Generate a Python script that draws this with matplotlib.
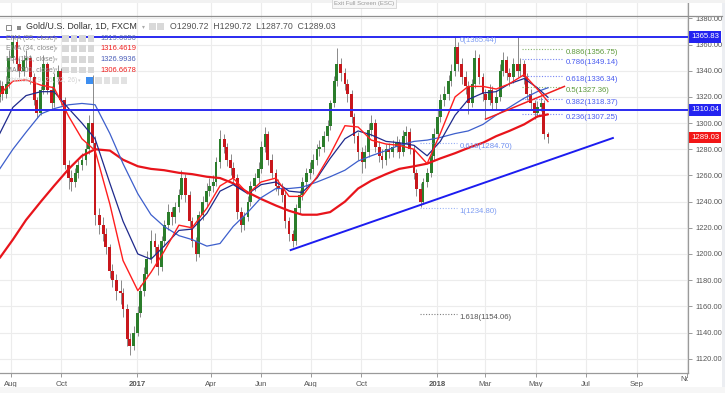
import matplotlib
matplotlib.use('Agg')
import matplotlib.pyplot as plt
import matplotlib.dates as mdates
from matplotlib.patches import Rectangle
from matplotlib.lines import Line2D
from matplotlib.transforms import Bbox, TransformedBbox
import pandas as pd
from datetime import datetime

plt.rcParams['font.family'] = ['Liberation Sans', 'DejaVu Sans']

W, H = 725, 393

# ---------------- data ----------------
start_date = '2016-07-18'      # first candle; one candle every 3 trading days
first_open = 1320
closes = [1328, 1322, 1330, 1350, 1362, 1345, 1340, 1348, 1350, 1335,
          1318, 1308, 1325, 1345, 1325, 1315, 1335, 1340, 1318, 1268,
          1258, 1255, 1262, 1268, 1272, 1280, 1300, 1285, 1230, 1222,
          1215, 1205, 1187, 1180, 1172, 1170, 1158, 1135, 1130, 1140,
          1155, 1172, 1185, 1196, 1210, 1205, 1190, 1210, 1222, 1232,
          1228, 1236, 1245, 1258, 1245, 1225, 1210, 1200, 1230, 1240,
          1248, 1252, 1255, 1270, 1288, 1282, 1272, 1266, 1258, 1232,
          1222, 1228, 1240, 1252, 1258, 1265, 1282, 1292, 1272, 1262,
          1252, 1250, 1245, 1225, 1215, 1210, 1235, 1245, 1255, 1262,
          1265, 1272, 1280, 1282, 1290, 1298, 1315, 1332, 1345, 1338,
          1330, 1322, 1305, 1290, 1278, 1270, 1278, 1295, 1300, 1282,
          1275, 1272, 1280, 1278, 1282, 1285, 1278, 1290, 1293, 1280,
          1262, 1250, 1240, 1255, 1262, 1275, 1292, 1305, 1318, 1322,
          1332, 1340, 1358, 1345, 1335, 1328, 1315, 1330, 1350, 1335,
          1322, 1318, 1325, 1315, 1320, 1340, 1348, 1338, 1335, 1345,
          1340, 1345, 1335, 1322, 1315, 1308, 1312, 1315, 1292, 1289.03]
highs = [1333, 1332, 1336, 1356, 1367, 1364, 1350, 1352, 1356, 1352,
         1338, 1320, 1328, 1352, 1347, 1328, 1338, 1344, 1342, 1320,
         1272, 1264, 1266, 1272, 1277, 1285, 1306, 1337, 1290, 1235,
         1228, 1220, 1208, 1192, 1185, 1180, 1174, 1162, 1140, 1145,
         1160, 1176, 1190, 1202, 1218, 1216, 1208, 1214, 1226, 1238,
         1236, 1240, 1250, 1264, 1261, 1248, 1228, 1213, 1233, 1244,
         1254, 1258, 1260, 1274, 1295, 1292, 1285, 1276, 1270, 1261,
         1236, 1232, 1244, 1256, 1262, 1270, 1286, 1297, 1294, 1276,
         1265, 1257, 1254, 1248, 1228, 1218, 1238, 1249, 1259, 1266,
         1270, 1276, 1284, 1287, 1294, 1302, 1318, 1336, 1357, 1350,
         1342, 1334, 1325, 1308, 1293, 1282, 1283, 1300, 1306, 1303,
         1286, 1280, 1284, 1285, 1287, 1290, 1288, 1295, 1298, 1296,
         1283, 1265, 1254, 1258, 1266, 1279, 1296, 1310, 1322, 1328,
         1337, 1345, 1366, 1362, 1350, 1340, 1332, 1334, 1356, 1353,
         1338, 1326, 1330, 1328, 1325, 1345, 1354, 1351, 1342, 1350,
         1366, 1350, 1348, 1338, 1326, 1318, 1317, 1320, 1318, 1293]
lows = [1316, 1318, 1319, 1327, 1346, 1340, 1335, 1336, 1343, 1330,
        1314, 1304, 1306, 1322, 1322, 1310, 1312, 1330, 1314, 1265,
        1250, 1248, 1251, 1258, 1264, 1268, 1276, 1280, 1222, 1215,
        1210, 1200, 1182, 1175, 1165, 1162, 1152, 1130, 1123, 1127,
        1137, 1152, 1168, 1182, 1193, 1200, 1184, 1187, 1206, 1218,
        1222, 1224, 1232, 1242, 1240, 1220, 1205, 1195, 1198, 1226,
        1236, 1244, 1247, 1252, 1266, 1277, 1267, 1260, 1254, 1227,
        1217, 1218, 1225, 1237, 1248, 1254, 1262, 1278, 1268, 1258,
        1248, 1245, 1240, 1220, 1210, 1205, 1207, 1231, 1241, 1251,
        1257, 1261, 1268, 1275, 1278, 1286, 1295, 1312, 1328, 1332,
        1325, 1316, 1300, 1285, 1272, 1262, 1266, 1274, 1290, 1278,
        1270, 1266, 1268, 1273, 1274, 1278, 1273, 1275, 1285, 1276,
        1257, 1244, 1236, 1238, 1251, 1259, 1272, 1288, 1301, 1313,
        1318, 1328, 1336, 1340, 1330, 1322, 1307, 1312, 1327, 1330,
        1317, 1303, 1314, 1310, 1311, 1317, 1336, 1333, 1328, 1331,
        1335, 1336, 1330, 1318, 1310, 1303, 1305, 1309, 1288, 1285]

# moving averages, sampled every 4th candle plus the last one
ma_step = 4
ema34 = [1322, 1332, 1333, 1329, 1327, 1305, 1288, 1279, 1238, 1195,
         1172, 1186, 1202, 1222, 1220, 1235, 1252, 1258, 1246, 1255,
         1258, 1244, 1244, 1259, 1276, 1298, 1297, 1287, 1284, 1283,
         1280, 1269, 1292, 1320, 1328, 1328, 1326, 1330, 1337, 1326, 1316.46]
ema55 = [1292, 1312, 1321, 1324, 1324, 1311, 1300, 1288, 1254, 1225,
         1200, 1196, 1206, 1218, 1219, 1231, 1248, 1253, 1246, 1253,
         1255, 1248, 1247, 1258, 1273, 1288, 1294, 1291, 1286, 1285,
         1283, 1275, 1286, 1306, 1318, 1323, 1324, 1330, 1334, 1327, 1319.67]
ma100 = [1265, 1280, 1293, 1307, 1311, 1314, 1315, 1314, 1292, 1269,
         1246, 1230, 1221, 1214, 1211, 1206, 1208, 1221, 1232, 1243,
         1250, 1250, 1251, 1255, 1259, 1264, 1271, 1275, 1279, 1283,
         1286, 1287, 1289, 1292, 1294, 1299, 1306, 1312, 1319, 1324, 1326.99]
ma200 = [1197, 1211, 1226, 1240, 1252, 1265, 1275, 1280, 1279, 1272,
         1267, 1265, 1264, 1262, 1261, 1259, 1258, 1254, 1247, 1242,
         1237, 1233, 1230, 1230, 1232, 1240, 1250, 1256, 1261, 1265,
         1267, 1269, 1273, 1277, 1281, 1285, 1290, 1294, 1299, 1305, 1306.67]

support_dates = ['2017-07-07', '2018-08-03']
support_prices = [1203.0, 1288.6]
red_trend_dates = ['2018-03-01', '2018-06-05']
red_trend_prices = [1303.0, 1328.0]
hline_prices = [1365.83, 1310.04]
last_price = 1289.03

fib1_labels = ['0', '0.618', '1', '1.618']
fib1_prices = [1365.44, 1284.70, 1234.80, 1154.06]
fib1_span = ['2017-12-11', '2018-01-25']
fib2_labels = ['0.236', '0.382', '0.5', '0.618', '0.786', '0.886']
fib2_prices = [1307.25, 1318.37, 1327.36, 1336.34, 1349.14, 1356.75]
fib2_span = ['2018-04-15', '2018-06-03']

legend_names = ['EMA (55, close)', 'EMA (34, close)', 'MA (100, close)', 'MA (200, close)']
legend_values = ['1319.6656', '1316.4619', '1326.9936', '1306.6678']

price_ticks = list(range(1120, 1381, 20))
month_dates = ['2016-08-01', '2016-10-01', '2017-01-01', '2017-04-01', '2017-06-01',
               '2017-08-01', '2017-10-01', '2018-01-01', '2018-03-01', '2018-05-01',
               '2018-07-01', '2018-09-01', '2018-11-01']
month_labels = ['Aug', 'Oct', '2017', 'Apr', 'Jun', 'Aug', 'Oct', '2018',
                'Mar', 'May', 'Jul', 'Sep', 'Nov']

# ---------------- figure ----------------
def fx(x):
    return x / W

def fy(y):
    return 1 - y / H

fig = plt.figure(figsize=(W / 100, H / 100), dpi=100)
fig.patch.set_facecolor('white')
ax = fig.add_axes([0, (H - 373) / H, 688 / W, 373 / H])
ax.set_facecolor('white')

px_per_day = 300 / 365.0
jan17 = mdates.date2num(datetime(2017, 1, 1))
x_left = jan17 - 137 / px_per_day
x_right = x_left + 688 / px_per_day
ax.set_xlim(x_left, x_right)
ax.set_ylim(1120 - (373 - 358.7) / 1.309, 1120 + 358.7 / 1.309)

n = len(closes)
dates = pd.bdate_range(start=start_date, periods=3 * n)[::3]
dnum = mdates.date2num(dates.to_pydatetime())
opens = [first_open] + closes[:-1]

# grid
for p in price_ticks:
    ax.axhline(p, color='#ececec', lw=0.8, zorder=0)
mnum = [mdates.date2num(pd.Timestamp(d).to_pydatetime()) for d in month_dates]
for m in mnum:
    ax.axvline(m, color='#ececec', lw=0.8, zorder=0)

# candles
ax.vlines(dnum, lows, highs, color='#8a8a8a', lw=0.7, zorder=2)
bottoms = [min(o, c) for o, c in zip(opens, closes)]
heights = [max(abs(c - o), 0.6) for o, c in zip(opens, closes)]
cols = ['#2b7d2b' if c >= o else '#c8171c' for o, c in zip(opens, closes)]
ax.bar(dnum, heights, bottom=bottoms, width=3.4, color=cols, linewidth=0, zorder=3)

# moving averages
ma_idx = list(range(0, n, ma_step)) + [n - 1]
ma_x = [dnum[i] for i in ma_idx]
ax.plot(ma_x, ma200, color='#e8141b', lw=1.6, zorder=5, solid_capstyle='round')
ax.plot(ma_x, ma100, color='#3d5fcc', lw=0.9, zorder=5)
ax.plot(ma_x, ema55, color='#1f2a8c', lw=0.9, zorder=5)
ax.plot(ma_x, ema34, color='#ff1e1e', lw=1.0, zorder=5)

# horizontal levels
for p in hline_prices:
    ax.axhline(p, color='#2a2af0', lw=1.4, zorder=6)

# trend lines
sd = [mdates.date2num(pd.Timestamp(d).to_pydatetime()) for d in support_dates]
ax.plot(sd, support_prices, color='#1c1cf0', lw=1.4, zorder=6)
rd = [mdates.date2num(pd.Timestamp(d).to_pydatetime()) for d in red_trend_dates]
ax.plot(rd, red_trend_prices, color='#f01e1e', lw=1.1, zorder=6)

# fibonacci levels
def draw_fib(span, labels, prices, colors):
    s = [mdates.date2num(pd.Timestamp(d).to_pydatetime()) for d in span]
    for lab, p, c in zip(labels, prices, colors):
        ax.plot(s, [p, p], color=c, lw=0.8, ls=(0, (1, 1.5)), alpha=0.75, zorder=4)
        ax.annotate(f'{lab}({p:.2f})', xy=(s[1], p), xytext=(3, -3.5),
                    textcoords='offset pixels', ha='left', va='center',
                    fontsize=5.6, color=c, zorder=7)

draw_fib(fib1_span, fib1_labels, fib1_prices,
         ['#7d9cf2', '#6f8ff0', '#7d9cf2', '#555555'])
draw_fib(fib2_span, fib2_labels, fib2_prices,
         ['#4a5cf0', '#4a5cf0', '#5e9a3c', '#4a5cf0', '#4a5cf0', '#5e9a3c'])

# axes styling
for s in ['top', 'left']:
    ax.spines[s].set_visible(False)
for s in ['right', 'bottom']:
    ax.spines[s].set_color('#9a9a9a')
    ax.spines[s].set_linewidth(0.9)
ax.yaxis.tick_right()
ax.set_yticks(price_ticks)
ax.set_yticklabels([f'{p:.2f}' for p in price_ticks])
ax.tick_params(axis='y', direction='out', length=3, width=0.7, pad=2,
               colors='#9a9a9a', labelcolor='#555555', labelsize=5.4)
ax.set_xticks(mnum)
ax.set_xticklabels(month_labels[:-1] + [''])
ax.tick_params(axis='x', direction='out', length=3, width=0.7, pad=2.5,
               colors='#9a9a9a', labelcolor='#555555', labelsize=5.6)
for lbl in ax.get_xticklabels():
    if lbl.get_text() in ('2017', '2018'):
        lbl.set_fontweight('bold')
nov = ax.text(mnum[-1], -0.0185, month_labels[-1], transform=ax.get_xaxis_transform(),
              ha='center', va='center', fontsize=5.6, color='#555555')
nov.set_clip_path(None)
nov.set_clip_box(TransformedBbox(Bbox([[0, 0], [688 / W, 1]]), fig.transFigure))
nov.set_clip_on(True)

# price tags on axis
def tag(p, fc):
    ax.annotate(f'{p:.2f}', xy=(1.0, p), xycoords=ax.get_yaxis_transform(),
                xytext=(3, 0), textcoords='offset pixels', ha='left', va='center',
                fontsize=5.6, color='white', zorder=20, annotation_clip=False,
                bbox=dict(boxstyle='square,pad=0.3', fc=fc, ec='none'))

tag(hline_prices[0], '#2323f0')
tag(hline_prices[1], '#2323f0')
tag(last_price, '#f21616')

# ---------------- chrome ----------------
fig.add_artist(Line2D([0, fx(722)], [fy(16), fy(16)], transform=fig.transFigure,
                      color='#8f8f8f', lw=0.9))
fig.add_artist(Rectangle((fx(722), 0), 1 - fx(722), 1, transform=fig.transFigure,
                         fc='#eceef2', ec='none'))
fig.add_artist(Rectangle((0, fy(3)), 1, fy(0) - fy(3), transform=fig.transFigure,
                         fc='#f2f2f2', ec='none'))
fig.add_artist(Rectangle((0, 0), 1, fy(387), transform=fig.transFigure,
                         fc='#f6f6f6', ec='none'))
fig.text(fx(364), fy(3.5), 'Exit Full Screen (ESC)', ha='center', va='center',
         fontsize=4.3, color='#9a9a9a',
         bbox=dict(boxstyle='square,pad=0.35', fc='#f7f7f7', ec='#d4d4d4', lw=0.6))

# title row
fig.add_artist(Rectangle((fx(6), fy(30)), fx(5), fy(25) - fy(30), transform=fig.transFigure,
                         fc='none', ec='#777777', lw=0.6))
fig.add_artist(Rectangle((fx(17), fy(29.5)), fx(4), fy(25.5) - fy(29.5), transform=fig.transFigure,
                         fc='#8a8a8a', ec='none'))
fig.text(fx(26), fy(26.7), 'Gold/U.S. Dollar, 1D, FXCM', ha='left', va='center',
         fontsize=6.4, color='#333333')
fig.text(fx(142), fy(26.7), '\u25be', ha='left', va='center', fontsize=4.2, color='#aaaaaa')
for xx in (149, 157):
    fig.add_artist(Rectangle((fx(xx), fy(30)), fx(6.5), fy(23.5) - fy(30),
                             transform=fig.transFigure, fc='#d9d9d9', ec='none'))
fig.text(fx(170), fy(26.7), 'O1290.72  H1290.72  L1287.70  C1289.03', ha='left', va='center',
         fontsize=6.3, color='#555555')

# legend rows
row_y = [38.3, 48.7, 59.3, 70.0]
val_cols = ['#5a6cae', '#f01e1e', '#4a5db8', '#f01e1e']
for yy, name, val, vc in zip(row_y, legend_names, legend_values, val_cols):
    fig.text(fx(6), fy(yy), name, ha='left', va='center', fontsize=5.0, color='#8a8a8a')
    fig.text(fx(54.5), fy(yy), '\u25be', ha='left', va='center', fontsize=3.6, color='#bbbbbb')
    for xx in (62, 70.5, 79, 87.5):
        fig.add_artist(Rectangle((fx(xx), fy(yy + 3.3)), fx(6.5), fy(yy - 3.3) - fy(yy + 3.3),
                                 transform=fig.transFigure, fc='#d8d8d8', ec='none'))
    fig.text(fx(100), fy(yy), val, ha='left', va='center', fontsize=5.4, color=vc)
yy = 80.7
fig.text(fx(6), fy(yy), 'Ichimoku (9, 26, 52, 26)', ha='left', va='center',
         fontsize=4.9, color='#d2d2d2')
fig.text(fx(78), fy(yy), '\u25be', ha='left', va='center', fontsize=3.6, color='#d0d0d0')
fig.add_artist(Rectangle((fx(86), fy(yy + 3.3)), fx(6.5), fy(yy - 3.3) - fy(yy + 3.3),
                         transform=fig.transFigure, fc='#3d8ef0', ec='none'))
for xx in (95, 103.5, 112, 120.5):
    fig.add_artist(Rectangle((fx(xx), fy(yy + 3.3)), fx(6.5), fy(yy - 3.3) - fy(yy + 3.3),
                             transform=fig.transFigure, fc='#e2e2e2', ec='none'))

fig.savefig('out.png', dpi=100, facecolor='white')
